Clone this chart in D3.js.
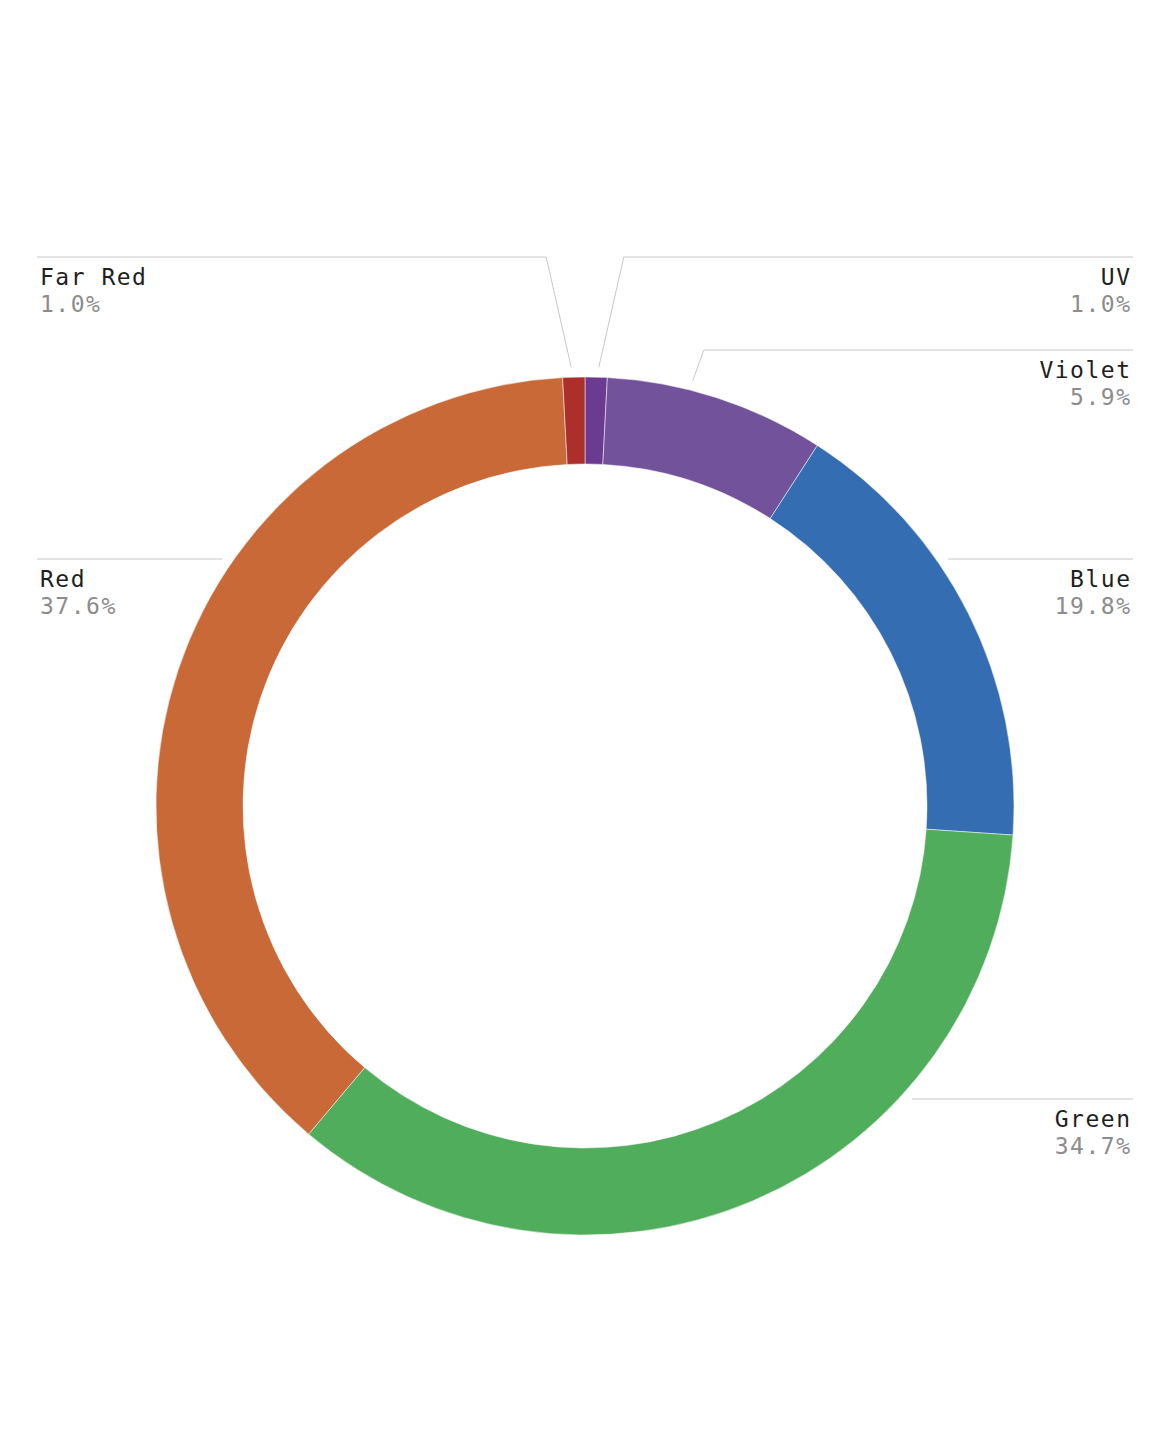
<!DOCTYPE html>
<html>
<head>
<meta charset="utf-8">
<script src="https://cdn.jsdelivr.net/npm/d3@7"></script>
<style>
  html, body { margin: 0; padding: 0; background: #fff; }
  svg { display: block; }
  .name { fill: #1f1f1f; }
  .pct { fill: #8c8c8c; }
  text { font-family: "DejaVu Sans Mono", "Liberation Mono", monospace; font-size: 23px; letter-spacing: 1.5px; }
</style>
</head>
<body>
<div id="chart"></div>
<script>
// Data, clockwise from 12 o'clock
const names = ["UV", "Violet", "Blue", "Green", "Red", "Far Red"];
const arcShares = [0.83, 8.28, 16.97, 35.06, 38.03, 0.83];   // size of each slice as drawn
const labelPct = [1.0, 5.9, 19.8, 34.7, 37.6, 1.0];          // value printed in the label
const colors = ["#6a3b91", "#72539b", "#356db2", "#50ad5b", "#c86937", "#ad2f2b"];

// Label rows (y of leader line) and the elbow offset for angled leaders
const labelLayout = {
    "UV":      { rowY: 257, elbow: 25 },
    "Violet":  { rowY: 350, elbow: 11 },
    "Blue":    { rowY: 559, elbow: null },
    "Green":   { rowY: 1099, elbow: null },
    "Red":     { rowY: 559, elbow: null },
    "Far Red": { rowY: 257, elbow: 25 }
};

const width = 1170, height = 1455;
const cx = 585, cy = 806;
const outerR = 429, innerR = 342;
const leaderR = outerR + 10;
const leftEdge = 37, rightEdge = 1133;

const rows = names.map((n, i) => ({ name: n, share: arcShares[i], pct: labelPct[i], color: colors[i] }));

const svg = d3.select('#chart')
    .append('svg')
    .attr('width', width)
    .attr('height', height);

const g = svg.append('g').attr('transform', `translate(${cx},${cy})`);

const pie = d3.pie().sort(null).value(d => d.share);
const labelPie = d3.pie().sort(null).value(d => d.pct);
const arc = d3.arc().innerRadius(innerR).outerRadius(outerR);

g.selectAll('path.slice')
    .data(pie(rows))
    .enter()
    .append('path')
    .attr('class', 'slice')
    .attr('d', arc)
    .attr('fill', d => d.data.color)
    .attr('stroke', '#fff')
    .attr('stroke-width', 0.5);

// Leader lines and labels
const line = d3.line();
const labelArcs = labelPie(rows);

labelArcs.forEach(d => {
    const name = d.data.name;
    const lay = labelLayout[name];
    const mid = (d.startAngle + d.endAngle) / 2;
    const right = mid < Math.PI;
    const side = right ? 1 : -1;
    const edgeX = (right ? rightEdge : leftEdge) - cx;
    const rowY = lay.rowY - cy;
    let pts;
    if (lay.elbow === null) {
        // straight leader that stops just outside the ring
        const x = side * Math.sqrt(leaderR * leaderR - rowY * rowY);
        pts = [[edgeX, rowY], [x, rowY]];
    } else {
        const ax = leaderR * Math.sin(mid);
        const ay = -leaderR * Math.cos(mid);
        const bx = ax + side * lay.elbow;
        pts = [[edgeX, rowY], [bx, rowY], [ax, ay]];
    }
    g.append('path')
        .attr('d', line(pts))
        .attr('fill', 'none')
        .attr('stroke', '#c8c8c8')
        .attr('stroke-width', 1);

    // letter-spacing trails the last glyph, so nudge right-aligned text over
    const tx = right ? rightEdge - 1.5 : leftEdge + 3;
    const anchor = right ? 'end' : 'start';
    svg.append('text')
        .attr('class', 'name')
        .attr('x', tx)
        .attr('y', lay.rowY + 28)
        .attr('text-anchor', anchor)
        .text(name);
    svg.append('text')
        .attr('class', 'pct')
        .attr('x', tx)
        .attr('y', lay.rowY + 55)
        .attr('text-anchor', anchor)
        .text(d.data.pct.toFixed(1) + '%');
});
</script>
</body>
</html>
